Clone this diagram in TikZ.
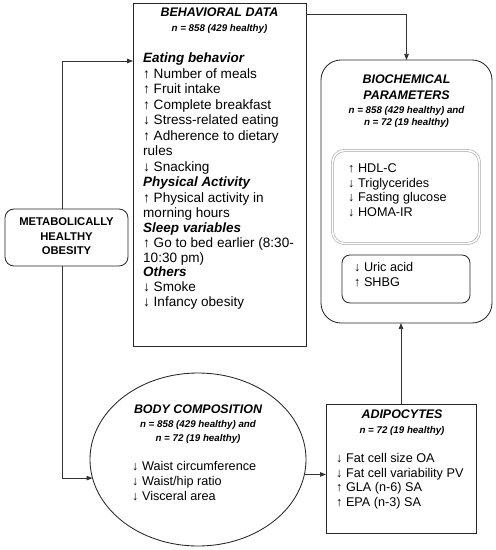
\documentclass[tikz,border=0pt]{standalone}
\usepackage{fontspec}
\setmainfont{Liberation Sans}
\usetikzlibrary{shapes.geometric,arrows.meta}
\tikzset{
  box/.style={draw=black!85, line width=0.85bp, inner sep=0pt, outer sep=0pt},
  arr/.style={draw=black!80, line width=0.75bp, -{Triangle[length=6bp,width=4.5bp]}},
  ln/.style={anchor=mid west, inner sep=0pt, font=\fontsize{13.6}{15}\selectfont},
  lns/.style={anchor=mid west, inner sep=0pt, font=\fontsize{12.7}{14}\selectfont},
  hd/.style={anchor=mid west, inner sep=0pt, font=\fontsize{13.5}{15}\selectfont\bfseries\itshape},
  ttl/.style={anchor=mid, inner sep=0pt, font=\fontsize{12.5}{14}\selectfont\bfseries\itshape},
  sub/.style={anchor=mid, inner sep=0pt, font=\fontsize{9.8}{12}\selectfont\bfseries\itshape},
  mh/.style={anchor=mid, inner sep=0pt, font=\fontsize{11.3}{13}\selectfont\bfseries},
}
\begin{document}
\begin{tikzpicture}[x=1bp,y=-1bp]
\useasboundingbox (0,0) rectangle (496,550);
% boxes
\node[box, minimum width=173bp, minimum height=343bp] (beh) at (219.5,174.5) {};
\node[box, rounded corners=20bp, minimum width=171bp, minimum height=263bp] (bio) at (406.5,191.5) {};
\node[draw=black!35, double=white, double distance=1.6bp, line width=0.6bp, rounded corners=12bp, inner sep=0pt, minimum width=147bp, minimum height=93bp] (inner) at (406,197) {};
\node[box, rounded corners=8bp, minimum width=128bp, minimum height=48bp] (uric) at (406,279) {};
\node[box, rounded corners=9bp, minimum width=123bp, minimum height=57bp] (mho) at (66.5,237.5) {};
\node[box, ellipse, minimum width=216bp, minimum height=173bp] (body) at (198,459.5) {};
\node[box, minimum width=150bp, minimum height=129bp] (adip) at (401,468.5) {};

% connectors
\draw[arr] ([yshift=-11bp]beh.north east) -| (bio.north);
\draw[arr] ([xshift=-4bp]mho.north) |- ([yshift=-58bp]beh.north west);
\draw[arr] ([xshift=-4bp]mho.south) |- (body.190);
\draw[arr] (body.352) -- (body.352 -| adip.west);
\draw[arr] (adip.north) -- (adip.north |- bio.south);

% MHO text
\node[mh] (m1) at (66.5,223) {METABOLICALLY};
\node[mh] (m2) at (66.5,238) {HEALTHY};
\node[mh] (m3) at (66.5,252) {OBESITY};

% behavioral
\node[ttl] (bt) at (219.5,14) {BEHAVIORAL DATA};
\node[sub] (bn) at (219.5,29) {n = 858 (429 healthy)};
\node[hd] (b1) at (143,60) {Eating behavior};
\node[ln] (b2) at (143,75.5) {↑ Number of meals};
\node[ln] (b3) at (143,91) {↑ Fruit intake};
\node[ln] (b4) at (143,106.5) {↑ Complete breakfast};
\node[ln] (b5) at (143,122) {↓ Stress-related eating};
\node[ln] (b6) at (143,137.5) {↑ Adherence to dietary};
\node[ln] (b7) at (143,153) {rules};
\node[ln] (b8) at (143,168.5) {↓ Snacking};
\node[hd] (b9) at (143,184) {Physical Activity};
\node[ln] (b10) at (143,199.5) {↑ Physical activity in};
\node[ln] (b11) at (143,214.5) {morning hours};
\node[hd] (b12) at (143,229.5) {Sleep variables};
\node[ln] (b13) at (143,244.5) {↑ Go to bed earlier (8:30-};
\node[ln] (b14) at (143,259.5) {10:30 pm)};
\node[hd] (b15) at (143,273.5) {Others};
\node[ln] (b16) at (143,288.5) {↓ Smoke};
\node[ln] (b17) at (143,303.5) {↓ Infancy obesity};

% biochemical
\node[ttl] (ct1) at (406.5,81) {BIOCHEMICAL};
\node[ttl] (ct2) at (406.5,96.5) {PARAMETERS};
\node[sub] (cn1) at (406.5,111) {n = 858 (429 healthy) and};
\node[sub] (cn2) at (406.5,123) {n = 72 (19 healthy)};
\node[lns] (c1) at (348,169.5) {↑ HDL-C};
\node[lns] (c2) at (348,184.5) {↓ Triglycerides};
\node[lns] (c3) at (348,199) {↓ Fasting glucose};
\node[lns] (c4) at (348,213.5) {↓ HOMA-IR};
\node[lns] (c5) at (354,269) {↓ Uric acid};
\node[lns] (c6) at (354,283.5) {↑ SHBG};

% body composition
\node[ttl] (dt) at (198,411) {BODY COMPOSITION};
\node[sub] (dn1) at (198,425) {n = 858 (429 healthy) and};
\node[sub] (dn2) at (198,438.5) {n = 72 (19 healthy)};
\node[lns] (d1) at (132,468) {↓ Waist circumference};
\node[lns] (d2) at (132,483) {↓ Waist/hip ratio};
\node[lns] (d3) at (132,498) {↓ Visceral area};

% adipocytes
\node[ttl] (at) at (402,416) {ADIPOCYTES};
\node[sub] (an) at (402,431) {n = 72 (19 healthy)};
\node[lns] (a1) at (336,460) {↓ Fat cell size OA};
\node[lns] (a2) at (336,474.5) {↓ Fat cell variability PV};
\node[lns] (a3) at (336,489) {↑ GLA (n-6) SA};
\node[lns] (a4) at (336,503.5) {↑ EPA (n-3) SA};
\end{tikzpicture}
\end{document}
